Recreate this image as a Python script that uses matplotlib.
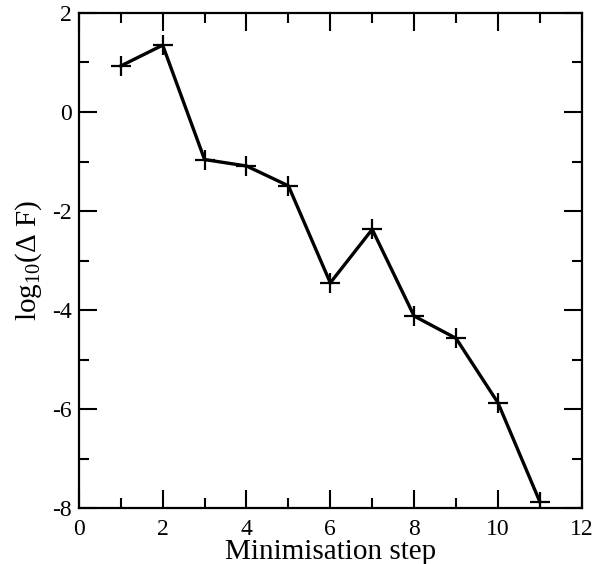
import matplotlib
matplotlib.use("Agg")
import matplotlib.pyplot as plt
from matplotlib.ticker import MultipleLocator

plt.rcParams["font.family"] = ["Liberation Serif", "DejaVu Serif"]
plt.rcParams["mathtext.fontset"] = "custom"
plt.rcParams["mathtext.rm"] = "Liberation Serif"
plt.rcParams["mathtext.it"] = "Liberation Serif:italic"
plt.rcParams["axes.unicode_minus"] = False

# convergence of the free energy during minimisation
steps = [1, 2, 3, 4, 5, 6, 7, 8, 9, 10, 11]
log_dF = [0.93, 1.35, -0.96, -1.09, -1.49, -3.45, -2.37, -4.12, -4.57, -5.87, -7.87]


def main():
    fig = plt.figure(figsize=(5.93, 5.64), dpi=100)
    ax = fig.add_axes([0.133, 0.099, 0.848, 0.878])

    ax.plot(steps, log_dF, color="black", linewidth=2.4,
            marker="+", markersize=14, markeredgewidth=1.6)

    ax.set_xlim(0, 12)
    ax.set_ylim(-8, 2)
    ax.xaxis.set_major_locator(MultipleLocator(2))
    ax.xaxis.set_minor_locator(MultipleLocator(1))
    ax.yaxis.set_major_locator(MultipleLocator(2))
    ax.yaxis.set_minor_locator(MultipleLocator(1))
    ax.tick_params(which="both", direction="in", top=True, right=True,
                   labelsize=17, width=1.5)
    ax.tick_params(which="major", length=13)
    ax.tick_params(which="minor", length=7)
    ax.tick_params(axis="x", which="major", pad=8)
    ax.tick_params(axis="y", which="major", pad=5)
    for spine in ax.spines.values():
        spine.set_linewidth(1.6)

    ax.set_xlabel("Minimisation step", fontsize=21, labelpad=-1)
    ax.set_ylabel(r"log$_{10}$($\Delta$ F)", fontsize=21, labelpad=6)

    fig.savefig("out.png", dpi=100)


if __name__ == "__main__":
    main()
